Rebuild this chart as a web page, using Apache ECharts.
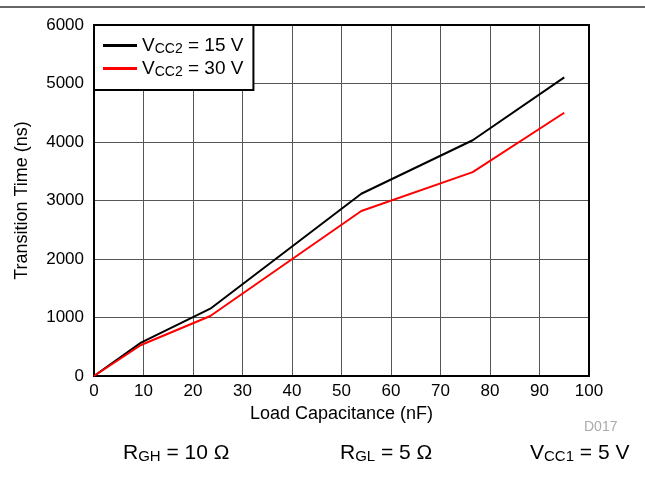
<!DOCTYPE html>
<html>
<head>
<meta charset="utf-8">
<script src="https://cdn.jsdelivr.net/npm/echarts@6/dist/echarts.min.js"></script>
<style>
  html, body { margin: 0; padding: 0; background: #fff; }
  #chart { width: 645px; height: 479px; }
</style>
</head>
<body>
<div id="chart"></div>
<script>
// load capacitance (nF) and transition time (ns)
const capVcc15 = [0, 9.5, 23.5, 54, 76.5, 95];
const timeVcc15 = [0, 570, 1150, 3115, 4030, 5105];
const capVcc30 = [0, 9.5, 23.5, 54, 76.5, 95];
const timeVcc30 = [0, 530, 1025, 2820, 3485, 4500];

const xTicks = [0, 10, 20, 30, 40, 50, 60, 70, 80, 90, 100];
const yTicks = [0, 1000, 2000, 3000, 4000, 5000, 6000];

const font = 'Liberation Sans, Arial, sans-serif';

const chart = echarts.init(document.getElementById('chart'));

const pair = (xs, ys) => xs.map((x, i) => [x, ys[i]]);

// normal text + subscript styles for rich labels
const richSub = (big, small) => ({
  n: { fontSize: big, fontFamily: font, color: '#000' },
  s: { fontSize: small, fontFamily: font, color: '#000', verticalAlign: 'bottom', padding: [7, 0, 0, 0] }
});

chart.setOption({
  animation: false,
  textStyle: { fontFamily: font },
  grid: {
    left: 94, right: 56, top: 25, bottom: 103,
    show: true, borderColor: '#000', borderWidth: 2, z: 3
  },
  legend: {
    orient: 'vertical',
    left: 94, top: 25,
    padding: [11, 10, 11, 9],
    itemGap: 3,
    itemWidth: 34, itemHeight: 3,
    icon: 'rect',
    backgroundColor: '#fff',
    borderColor: '#000', borderWidth: 2,
    borderRadius: 0,
    data: ['15', '30'],
    formatter: n => '{n|V}{s|CC2}{n| = ' + n + ' V}',
    textStyle: { fontSize: 19, rich: richSub(19, 14) }
  },
  xAxis: {
    type: 'value', min: xTicks[0], max: xTicks[xTicks.length - 1], interval: 10,
    name: 'Load Capacitance (nF)', nameLocation: 'middle', nameGap: 24,
    nameTextStyle: { fontSize: 18, color: '#000', fontFamily: font },
    axisLine: { show: false }, axisTick: { show: false },
    axisLabel: { color: '#000', fontSize: 17, margin: 7, fontFamily: font },
    splitLine: { show: true, lineStyle: { color: '#555', width: 1 } }
  },
  yAxis: {
    type: 'value', min: yTicks[0], max: yTicks[yTicks.length - 1], interval: 1000,
    name: 'Transition Time (ns)', nameLocation: 'middle', nameGap: 63,
    nameTextStyle: { fontSize: 18, color: '#000', fontFamily: font },
    axisLine: { show: false }, axisTick: { show: false },
    axisLabel: { color: '#000', fontSize: 17, margin: 10, fontFamily: font, formatter: v => String(v) },
    splitLine: { show: true, lineStyle: { color: '#555', width: 1 } }
  },
  series: [
    {
      name: '15', type: 'line', data: pair(capVcc15, timeVcc15),
      showSymbol: false, symbol: 'none', color: '#000',
      lineStyle: { width: 2, color: '#000' }
    },
    {
      name: '30', type: 'line', data: pair(capVcc30, timeVcc30),
      showSymbol: false, symbol: 'none', color: '#f00',
      lineStyle: { width: 2, color: '#f00' }
    }
  ],
  graphic: [
    { type: 'rect', shape: { x: 0, y: 6, width: 645, height: 2 }, style: { fill: '#666' } },
    {
      type: 'text', left: 584, top: 420,
      style: { text: 'D017', fontSize: 14, fill: '#aaa', fontFamily: font }
    },
    {
      type: 'text', left: 123, top: 443,
      style: { text: '{n|R}{s|GH}{n| = 10 Ω}', rich: richSub(21, 15) }
    },
    {
      type: 'text', left: 340, top: 443,
      style: { text: '{n|R}{s|GL}{n| = 5 Ω}', rich: richSub(21, 15) }
    },
    {
      type: 'text', left: 530, top: 443,
      style: { text: '{n|V}{s|CC1}{n| = 5 V}', rich: richSub(21, 15) }
    }
  ]
});
</script>
</body>
</html>
